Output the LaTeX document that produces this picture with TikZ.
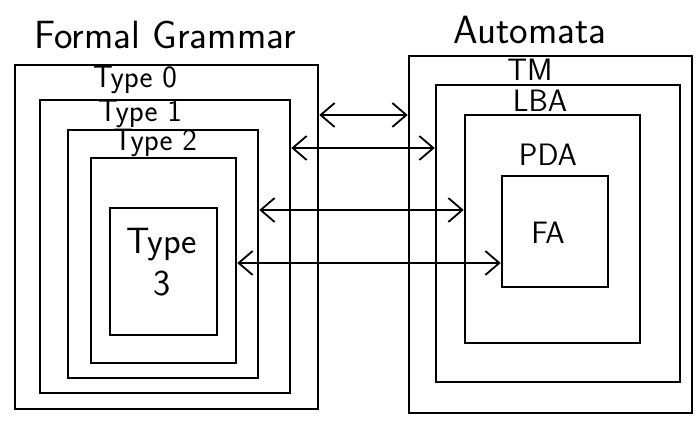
\documentclass[tikz,border=0pt]{standalone}
\usepackage{tikz}
\usetikzlibrary{arrows.meta,fit}

\begin{document}
\begin{tikzpicture}[
  x=0.025cm, y=-0.025cm,
  >={Straight Barb[length=3.5mm,width=6mm]},
  frame/.style = {draw, line width=1.8pt, inner sep=0pt},
  title/.style = {font=\sffamily\fontsize{28}{32}\selectfont, inner sep=1pt},
  lbl/.style   = {font=\sffamily\fontsize{22}{24}\selectfont, inner sep=1pt, align=center},
  link/.style  = {<->, line width=1.3pt}
]
\useasboundingbox (0,0) rectangle (699,425);

%% ---- formal grammar: nested types ------------------------------------
\node[title] (fgtitle) at (165,35) {Formal Grammar};
\node[frame, fit={(15,65) (318,409)}]  (fg) {};
\node[frame, fit={(40,100) (290,393)}] (t0) {};
\node[frame, fit={(68,130) (258,378)}] (t1) {};
\node[frame, fit={(91,158) (236,363)}] (t2) {};
\node[frame, fit={(110,208) (217,335)}] (t3) {};

\node[lbl] (t0lbl) at (135,80)  {Type 0};
\node[lbl] (t1lbl) at (140,114) {Type 1};
\node[lbl] (t2lbl) at (155,143) {Type 2};
\node[lbl, font=\sffamily\fontsize{26}{30}\selectfont] (t3lbl) at (162,262) {Type\\3};

%% ---- automata: nested machines ---------------------------------------
\node[title] (amtitle) at (530,30) {Automata};
\node[frame, fit={(409,56) (692,413)}]  (am)  {};
\node[frame, fit={(436,85) (680,382)}]  (tm)  {};
\node[frame, fit={(465,115) (640,343)}] (lba) {};
\node[frame, fit={(502,176) (608,287)}] (fa)  {};

\node[lbl] (tmlbl)  at (530,70)  {TM};
\node[lbl] (lbalbl) at (540,101) {LBA};
\node[lbl] (pdalbl) at (548,155) {PDA};
\node[lbl] (falbl)  at (548,233) {FA};

%% ---- equivalences ----------------------------------------------------
\draw[link] (fg.east |- 0,115) -- (am.west |- 0,115);
\draw[link] (t0.east |- 0,148) -- (tm.west |- 0,148);
\draw[link] (t1.east |- 0,210) -- (lba.west |- 0,210);
\draw[link] (t2.east |- 0,263) -- (fa.west |- 0,263);

\end{tikzpicture}
\end{document}
